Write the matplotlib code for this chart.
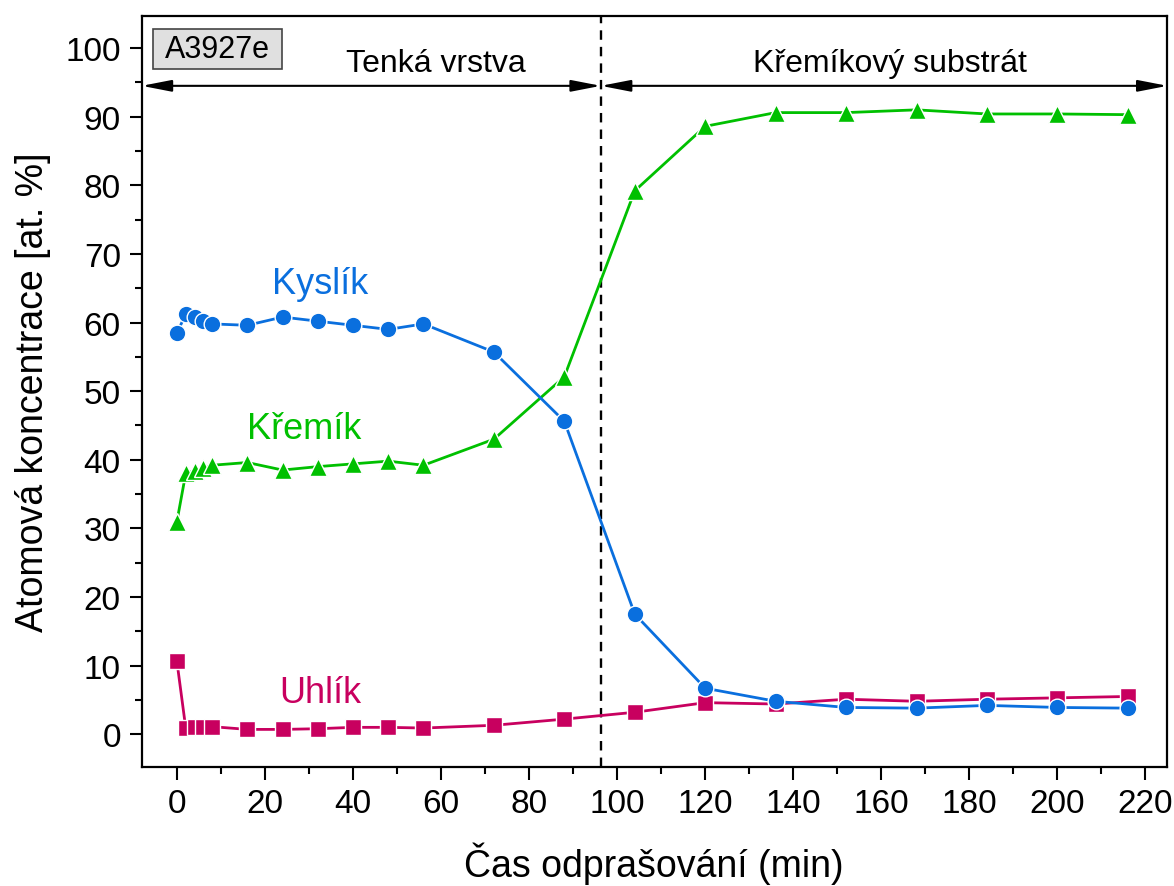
import numpy as np
import matplotlib
matplotlib.use('Agg')
import matplotlib.pyplot as plt
from matplotlib.patches import Rectangle
from matplotlib.ticker import MultipleLocator

plt.rcParams['font.family'] = ['Liberation Sans', 'DejaVu Sans']

# Sputtering time (min)
time = [0, 2, 4, 6, 8, 16, 24, 32, 40, 48, 56, 72, 88, 104, 120, 136, 152, 168, 184, 200, 216]

# Atomic concentrations [at. %]
oxygen = [58.5, 61.2, 60.8, 60.2, 59.8, 59.6, 60.8, 60.2, 59.6, 59.0, 59.8, 55.7, 45.6,
          17.5, 6.7, 4.8, 3.9, 3.8, 4.2, 3.9, 3.8]
silicon = [31.0, 38.0, 38.4, 38.8, 39.2, 39.6, 38.5, 39.0, 39.4, 39.8, 39.2, 43.0, 52.1,
           79.2, 88.6, 90.6, 90.6, 91.0, 90.4, 90.4, 90.3]
carbon = [10.6, 0.9, 1.0, 1.1, 1.1, 0.7, 0.7, 0.8, 1.0, 1.0, 0.9, 1.3, 2.2,
          3.2, 4.6, 4.4, 5.1, 4.8, 5.1, 5.3, 5.5]

interface = 96.3

c_ox = '#0a6fde'
c_si = '#00c000'
c_c = '#c8005f'

fig = plt.figure(figsize=(11.74, 8.87), dpi=100)
ax = fig.add_axes([0.1207, 0.134, 0.873, 0.847])

style = dict(lw=2.0, markeredgecolor='white', markeredgewidth=1.0, clip_on=False, zorder=3)
ax.plot(time, silicon, '^-', color=c_si, ms=13.5, **style)
ax.plot(time, carbon, 's-', color=c_c, ms=11, **style)
ax.plot(time, oxygen, 'o-', color=c_ox, ms=12, **style)

ax.axvline(interface, color='black', ls=(0, (4, 3)), lw=1.7, zorder=2)

# region arrows
arr = dict(arrowstyle='<|-|>,head_length=1.8,head_width=0.35', color='black', lw=1.5,
           shrinkA=0, shrinkB=0)
ax.annotate('', xy=(-8, 94.5), xytext=(interface, 94.5), arrowprops=arr)
ax.annotate('', xy=(interface, 94.5), xytext=(225, 94.5), arrowprops=arr)
ax.text(58.8, 95.7, 'Tenká vrstva', ha='center', va='bottom', fontsize=23)
ax.text(162, 95.7, 'Křemíkový substrát', ha='center', va='bottom', fontsize=23)

# sample label box
ax.add_patch(Rectangle((-5.5, 96.9), 29.3, 5.9, fc='#e0e0e0', ec='#444444', lw=1.2, zorder=4))
ax.text(9.15, 99.85, 'A3927e', ha='center', va='center', fontsize=22, zorder=5)

ax.text(32.5, 65.7, 'Kyslík', color=c_ox, ha='center', va='center', fontsize=26)
ax.text(29, 44.5, 'Křemík', color=c_si, ha='center', va='center', fontsize=26)
ax.text(32.5, 6.1, 'Uhlík', color=c_c, ha='center', va='center', fontsize=26)

ax.set_xlim(-8, 224.8)
ax.set_ylim(-4.8, 104.7)
ax.xaxis.set_major_locator(MultipleLocator(20))
ax.xaxis.set_minor_locator(MultipleLocator(10))
ax.yaxis.set_major_locator(MultipleLocator(10))
ax.yaxis.set_minor_locator(MultipleLocator(5))
ax.tick_params(which='major', direction='out', length=9, width=1.5, labelsize=24, pad=6)
ax.tick_params(which='minor', direction='out', length=5, width=1.5)
for s in ax.spines.values():
    s.set_linewidth(1.6)

ax.set_xlabel('Čas odprašování (min)', fontsize=27, labelpad=16)
ax.set_ylabel('Atomová koncentrace [at. %]', fontsize=27, labelpad=10)

fig.savefig('out.png', dpi=100)
